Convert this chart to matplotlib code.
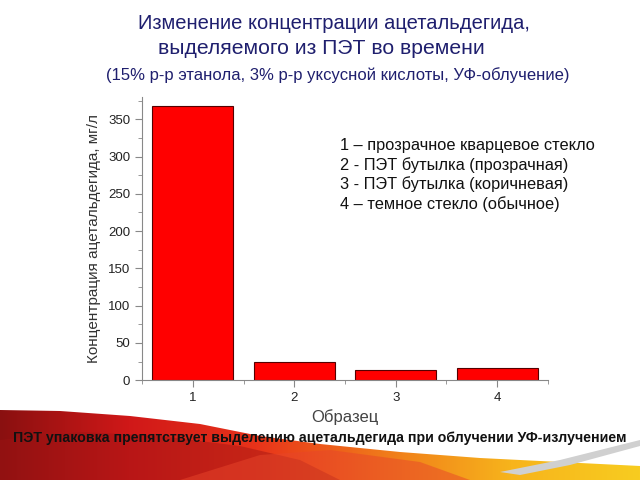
import numpy as np
import matplotlib
matplotlib.use("Agg")
import matplotlib.pyplot as plt
from matplotlib.colors import LinearSegmentedColormap
from matplotlib.patches import Polygon
from matplotlib.ticker import MultipleLocator

plt.rcParams['font.family'] = ['Liberation Sans', 'DejaVu Sans']

samples = [1, 2, 3, 4]
concentration = [368, 25, 13, 16]
x_ticklabels = ['1', '2', '3', '4']
legend_lines = ['1 – прозрачное кварцевое стекло',
                '2 - ПЭТ бутылка (прозрачная)',
                '3 - ПЭТ бутылка (коричневая)',
                '4 – темное стекло (обычное)']

fig = plt.figure(figsize=(6.4, 4.8), dpi=100)

# background decoration (swoosh at bottom)
bg = fig.add_axes([0, 0, 1, 1], zorder=0)
bg.set_xlim(0, 640)
bg.set_ylim(480, 0)
bg.axis('off')
cmap = LinearSegmentedColormap.from_list('sw', ['#8a1010', '#d01818', '#e8331a', '#f07a1a', '#f7b41c', '#f8cc20'])
grad = np.linspace(0, 1, 256).reshape(1, -1)
im = bg.imshow(grad, extent=[0, 640, 480, 400], cmap=cmap, aspect='auto', zorder=1)
top_curve = [(0, 410), (60, 411), (130, 416), (200, 424), (260, 436), (320, 444), (400, 452), (480, 458), (560, 462), (640, 466)]
poly = Polygon(top_curve + [(640, 480), (0, 480)], closed=True, transform=bg.transData, facecolor='none', edgecolor='none')
bg.add_patch(poly)
im.set_clip_path(poly)
dark = Polygon([(0, 440), (80, 432), (160, 436), (240, 446), (300, 460), (340, 480), (0, 480)],
               closed=True, facecolor='#9c1414', edgecolor='none', alpha=0.45, zorder=2)
bg.add_patch(dark)
light = Polygon([(180, 480), (260, 455), (330, 450), (420, 462), (470, 480)],
                closed=True, facecolor='#e8452a', edgecolor='none', alpha=0.5, zorder=2)
bg.add_patch(light)
grey = Polygon([(500, 472), (560, 460), (640, 440), (640, 446), (570, 465), (520, 475)],
               closed=True, facecolor='#d0d0d0', edgecolor='none', zorder=3)
bg.add_patch(grey)

ax = fig.add_axes([0.222, 0.208, 0.634, 0.59], zorder=2)
ax.patch.set_alpha(0)
ax.bar(samples, concentration, width=0.8, color='#ff0000', edgecolor='#550000', linewidth=0.8)
ax.set_xlim(0.5, 4.5)
ax.set_ylim(0, 380)
ax.set_xticks(samples)
ax.set_xticklabels(x_ticklabels)
ax.yaxis.set_major_locator(MultipleLocator(50))
ax.yaxis.set_minor_locator(MultipleLocator(25))
ax.xaxis.set_minor_locator(MultipleLocator(0.5))
for s in ['top', 'right']:
    ax.spines[s].set_visible(False)
for s in ['left', 'bottom']:
    ax.spines[s].set_color('#888888')
ax.tick_params(axis='both', which='major', direction='out', length=5, color='#888888', labelsize=9.5, labelcolor='#222222')
ax.tick_params(axis='both', which='minor', direction='out', length=3, color='#888888')
ax.set_ylabel('Концентрация ацетальдегида, мг/л', fontsize=11, color='#333333', labelpad=5)
ax.set_xlabel('Образец', fontsize=12, color='#444444', labelpad=4)

fig.text(0.522, 0.952, 'Изменение концентрации ацетальдегида,', ha='center', va='center', fontsize=14.5, color='#1f1f6e')
fig.text(0.502, 0.899, 'выделяемого из ПЭТ во времени', ha='center', va='center', fontsize=15.2, color='#1f1f6e')
fig.text(0.528, 0.843, '(15% р-р этанола, 3% р-р уксусной кислоты, УФ-облучение)', ha='center', va='center', fontsize=12, color='#1f1f6e')

for i, line in enumerate(legend_lines):
    fig.text(0.531, 0.697 - i * 0.0405, line, ha='left', va='center', fontsize=11.8, color='#111111')

fig.text(0.5, 0.087, 'ПЭТ упаковка препятствует выделению ацетальдегида при облучении УФ-излучением',
         ha='center', va='center', fontsize=10.2, fontweight='bold', color='#111111')

fig.savefig('out.png', dpi=100)
